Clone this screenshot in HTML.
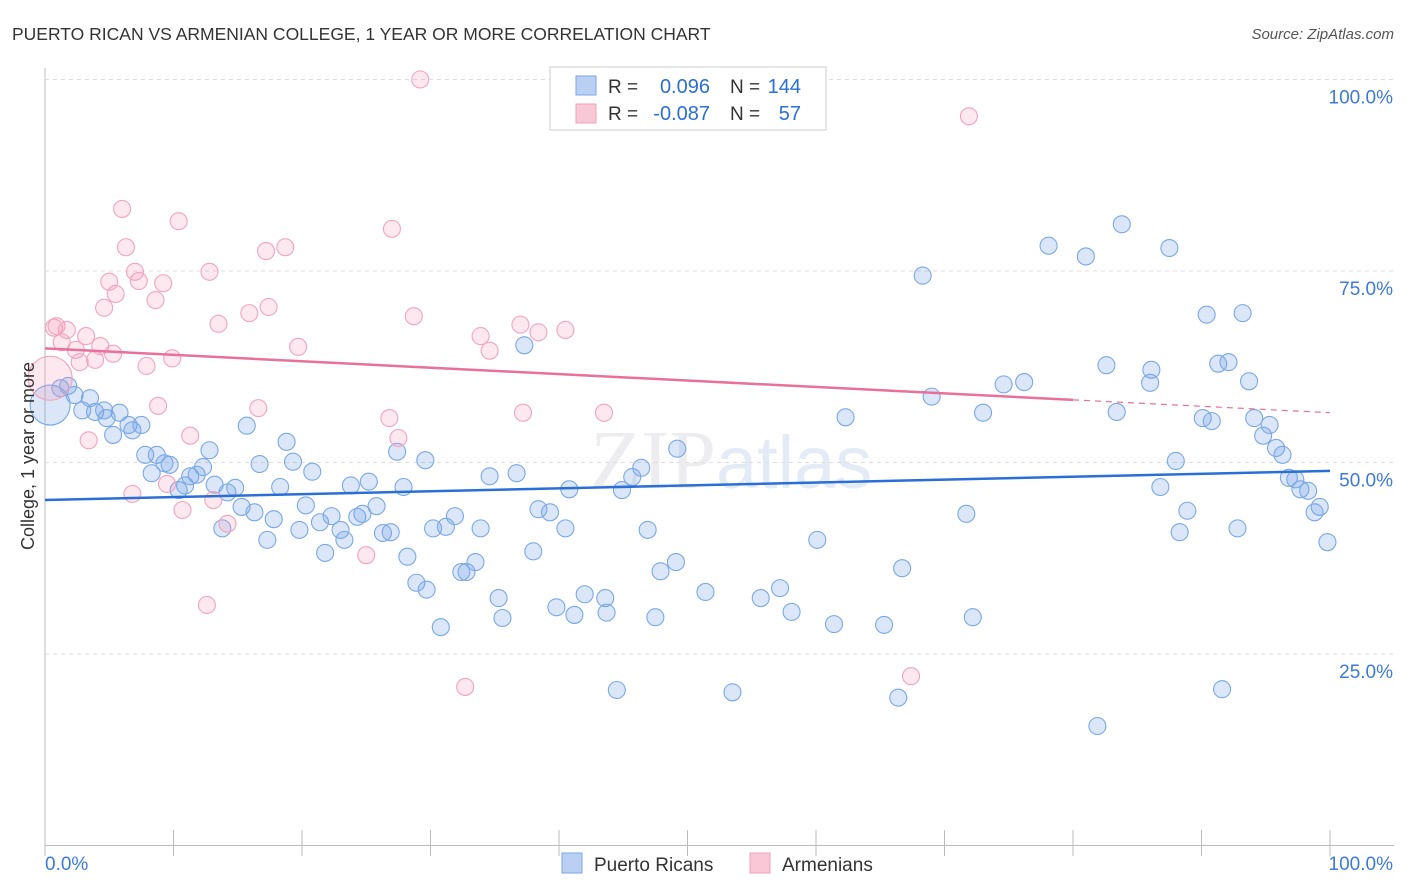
<!DOCTYPE html>
<html><head><meta charset="utf-8"><style>
body{margin:0;background:#fff;font-family:"Liberation Sans",sans-serif;}
#wrap{position:relative;width:1406px;height:892px;overflow:hidden;}
</style></head><body>
<div id="wrap">
<svg id="svg" width="1406" height="892" xmlns="http://www.w3.org/2000/svg">
<text x="12" y="40" font-size="17.5" fill="#333">PUERTO RICAN VS ARMENIAN COLLEGE, 1 YEAR OR MORE CORRELATION CHART</text>
<text x="1394" y="39" font-size="15" fill="#555" font-style="italic" text-anchor="end">Source: ZipAtlas.com</text>
<text x="716" y="488" font-size="84" fill="#ededf0" text-anchor="end" font-family="Liberation Serif">ZIP</text>
<text x="716" y="488" font-size="74" fill="#e4ebf6">atlas</text>
<g id="grid"></g>
<g id="pts"></g>
<g id="lines"></g>
<text transform="translate(34,456) rotate(-90)" font-size="18" fill="#333" text-anchor="middle">College, 1 year or more</text>
<g>
<rect x="550" y="67" width="276" height="63" fill="#fff" stroke="#ccc"/>
<rect x="576" y="76" width="20" height="19" fill="#b9d0f2" stroke="#7aa6e6"/>
<rect x="576" y="104" width="20" height="19" fill="#f9c8d6" stroke="#f0a0b8"/>
<text x="608" y="93" font-size="19" fill="#333">R =</text>
<text x="710" y="93" font-size="20" fill="#2a6fd6" text-anchor="end">0.096</text>
<text x="730" y="93" font-size="19" fill="#333">N =</text>
<text x="801" y="93" font-size="20" fill="#2a6fd6" text-anchor="end">144</text>
<text x="608" y="120" font-size="19" fill="#333">R =</text>
<text x="710" y="120" font-size="20" fill="#2a6fd6" text-anchor="end">-0.087</text>
<text x="730" y="120" font-size="19" fill="#333">N =</text>
<text x="801" y="120" font-size="20" fill="#2a6fd6" text-anchor="end">57</text>
</g>
<g>
<rect x="562" y="853" width="20" height="20" fill="#b9d0f2" stroke="#7aa6e6"/>
<text x="594" y="871" font-size="19" fill="#333">Puerto Ricans</text>
<rect x="750" y="853" width="20" height="20" fill="#f9c8d6" stroke="#f0a0b8"/>
<text x="782" y="871" font-size="19" fill="#333">Armenians</text>
</g>
</svg>
</div>
<script>
const yTicks=[25,50,75,100];
const xTickLabels=["0.0%","100.0%"];
const blueX=[0.4,1.2,1.8,2.3,2.9,3.5,3.9,4.6,4.8,5.3,5.8,6.5,6.8,7.5,7.8,8.3,8.7,9.3,9.7,10.4,10.9,11.3,11.8,12.3,12.8,13.2,13.8,14.2,14.8,15.3,15.7,16.3,16.7,17.3,17.8,18.3,18.8,19.3,19.8,20.3,20.8,21.4,21.8,22.3,23.0,23.3,23.8,24.3,24.7,25.2,25.8,26.3,26.9,27.4,27.9,28.2,28.9,29.6,29.7,30.2,30.8,31.2,31.9,32.4,32.8,33.5,33.9,34.6,35.3,35.6,36.7,37.3,38.0,38.4,39.3,39.8,40.5,40.8,41.2,42.0,43.6,43.7,44.5,44.9,45.7,46.4,46.9,47.5,47.9,49.1,49.2,51.4,53.5,55.7,57.2,58.1,60.1,61.4,62.3,65.3,66.4,66.7,68.3,69.0,71.7,72.2,73.0,74.6,76.2,78.1,81.0,81.9,82.6,83.4,83.8,86.0,86.1,86.8,87.5,88.0,88.3,88.9,90.1,90.4,90.8,91.3,91.6,92.1,92.8,93.2,93.7,94.1,94.8,95.3,95.8,96.3,96.8,97.3,97.7,98.3,98.8,99.2,99.8];
const blueY=[57.5,59.7,60.0,58.8,56.8,58.4,56.6,56.8,55.8,53.6,56.5,54.9,54.2,54.9,51.0,48.6,51.0,49.9,49.7,46.4,47.0,48.2,48.4,49.4,51.6,47.1,41.4,46.1,46.7,44.2,54.8,43.5,49.8,39.9,42.6,46.8,52.7,50.1,41.2,44.4,48.8,42.2,38.2,43.0,41.2,39.9,47.0,42.9,43.3,47.5,44.3,40.8,40.9,51.4,46.8,37.7,34.3,50.3,33.4,41.4,28.5,41.6,43.0,35.7,35.7,37.0,41.4,48.2,32.3,29.7,48.6,65.3,38.4,43.9,43.5,31.1,41.4,46.5,30.1,32.8,32.3,30.4,20.3,46.4,48.1,49.3,41.2,29.8,35.8,37.0,51.8,33.1,20.0,32.3,33.6,30.5,39.9,28.9,55.9,28.8,19.3,36.2,74.4,58.6,43.3,29.8,56.5,60.2,60.5,78.3,76.9,15.6,62.7,56.6,81.1,60.4,62.1,46.8,78.0,50.2,40.9,43.7,55.8,69.3,55.4,62.9,20.4,63.1,41.4,69.5,60.6,55.8,53.5,54.9,51.9,51.0,48.0,47.8,46.5,46.3,43.5,44.2,39.6];
const pinkX=[29.2,71.9,0.4,0.7,0.9,1.3,1.7,2.4,2.7,3.2,3.4,3.9,4.3,4.6,5.0,5.3,5.5,6.0,6.3,6.8,7.0,7.3,7.9,8.6,8.8,9.2,9.5,9.9,10.4,10.7,11.3,12.6,12.8,13.1,13.5,14.2,15.9,16.6,17.2,17.4,18.7,19.7,25.0,26.8,27.0,27.5,28.7,32.7,33.9,34.6,37.0,37.2,38.4,40.5,43.5,67.4];
const pinkY=[100,95.2,61.0,67.6,67.8,65.7,67.3,64.7,63.1,66.5,52.9,63.4,65.2,70.2,73.6,64.2,72.0,83.1,78.1,45.9,74.9,73.7,62.6,71.2,57.4,73.4,47.2,63.6,81.5,43.8,53.5,31.4,74.9,45.1,68.1,42.0,69.5,57.1,77.6,70.3,78.1,65.1,37.9,55.8,80.5,53.2,69.1,20.7,66.5,64.6,68.0,56.5,67.0,67.3,56.5,22.1];
const blueTrend=[45.1,48.9];
const pinkTrend=[64.9,56.5];
const pinkSolidEnd=80;

const X0=45,X1=1330,Y0=845.5,Y100=79.5;
const sx=v=>X0+(X1-X0)*v/100;
const sy=v=>Y0-(Y0-Y100)*v/100;
const NS="http://www.w3.org/2000/svg";
function mk(tag,attrs,parent){const e=document.createElementNS(NS,tag);for(const k in attrs)e.setAttribute(k,attrs[k]);parent.appendChild(e);return e;}
const grid=document.getElementById('grid'),pts=document.getElementById('pts'),lines=document.getElementById('lines');
let ax=mk('line',{x1:45,y1:68,x2:45,y2:846,stroke:'#bbb'},grid);


let bx=mk('line',{x1:45,y1:845.5,x2:1394,y2:845.5,stroke:'#bbb'},grid);


for(let i=0;i<=10;i++){const t=mk('line',{x1:sx(i*10),y1:830,x2:sx(i*10),y2:856,stroke:'#bbb'},grid);

}
yTicks.forEach(v=>{const g=mk('line',{x1:45,y1:sy(v),x2:1394,y2:sy(v),stroke:'#ddd','stroke-dasharray':'4,4'},grid);


const t=mk('text',{x:1393,y:sy(v)+24,'font-size':19,fill:'#3d7ad8','text-anchor':'end'},grid);t.textContent=v.toFixed(1)+'%';

});
const xl=mk('text',{x:45,y:870,'font-size':19,fill:'#3d7ad8'},grid);xl.textContent=xTickLabels[0];


const xr=mk('text',{x:1393,y:870,'font-size':19,fill:'#3d7ad8','text-anchor':'end'},grid);xr.textContent=xTickLabels[1];


blueX.forEach((x,i)=>{const c=mk('circle',{cx:sx(x),cy:sy(blueY[i]),r:i===0?20:8.5,fill:'rgba(110,160,232,0.25)',stroke:'#7aa8e6','stroke-width':1.1},pts);

});
pinkX.forEach((x,i)=>{const c=mk('circle',{cx:sx(x),cy:sy(pinkY[i]),r:i===2?22:8.5,fill:'rgba(245,150,180,0.22)',stroke:'#f2a4bd','stroke-width':1.1},pts);

});
const bl=mk('line',{x1:sx(0),y1:sy(blueTrend[0]),x2:sx(100),y2:sy(blueTrend[1]),stroke:'#2a6fd6','stroke-width':2.5},lines);


const pm=pinkTrend[0]+(pinkTrend[1]-pinkTrend[0])*pinkSolidEnd/100;
const pl=mk('line',{x1:sx(0),y1:sy(pinkTrend[0]),x2:sx(pinkSolidEnd),y2:sy(pm),stroke:'#e8709a','stroke-width':2.5},lines);


const pd=mk('line',{x1:sx(pinkSolidEnd),y1:sy(pm),x2:sx(100),y2:sy(pinkTrend[1]),stroke:'#e8709a','stroke-width':1.2,'stroke-dasharray':'6,5'},lines);


</script>
</body></html>
